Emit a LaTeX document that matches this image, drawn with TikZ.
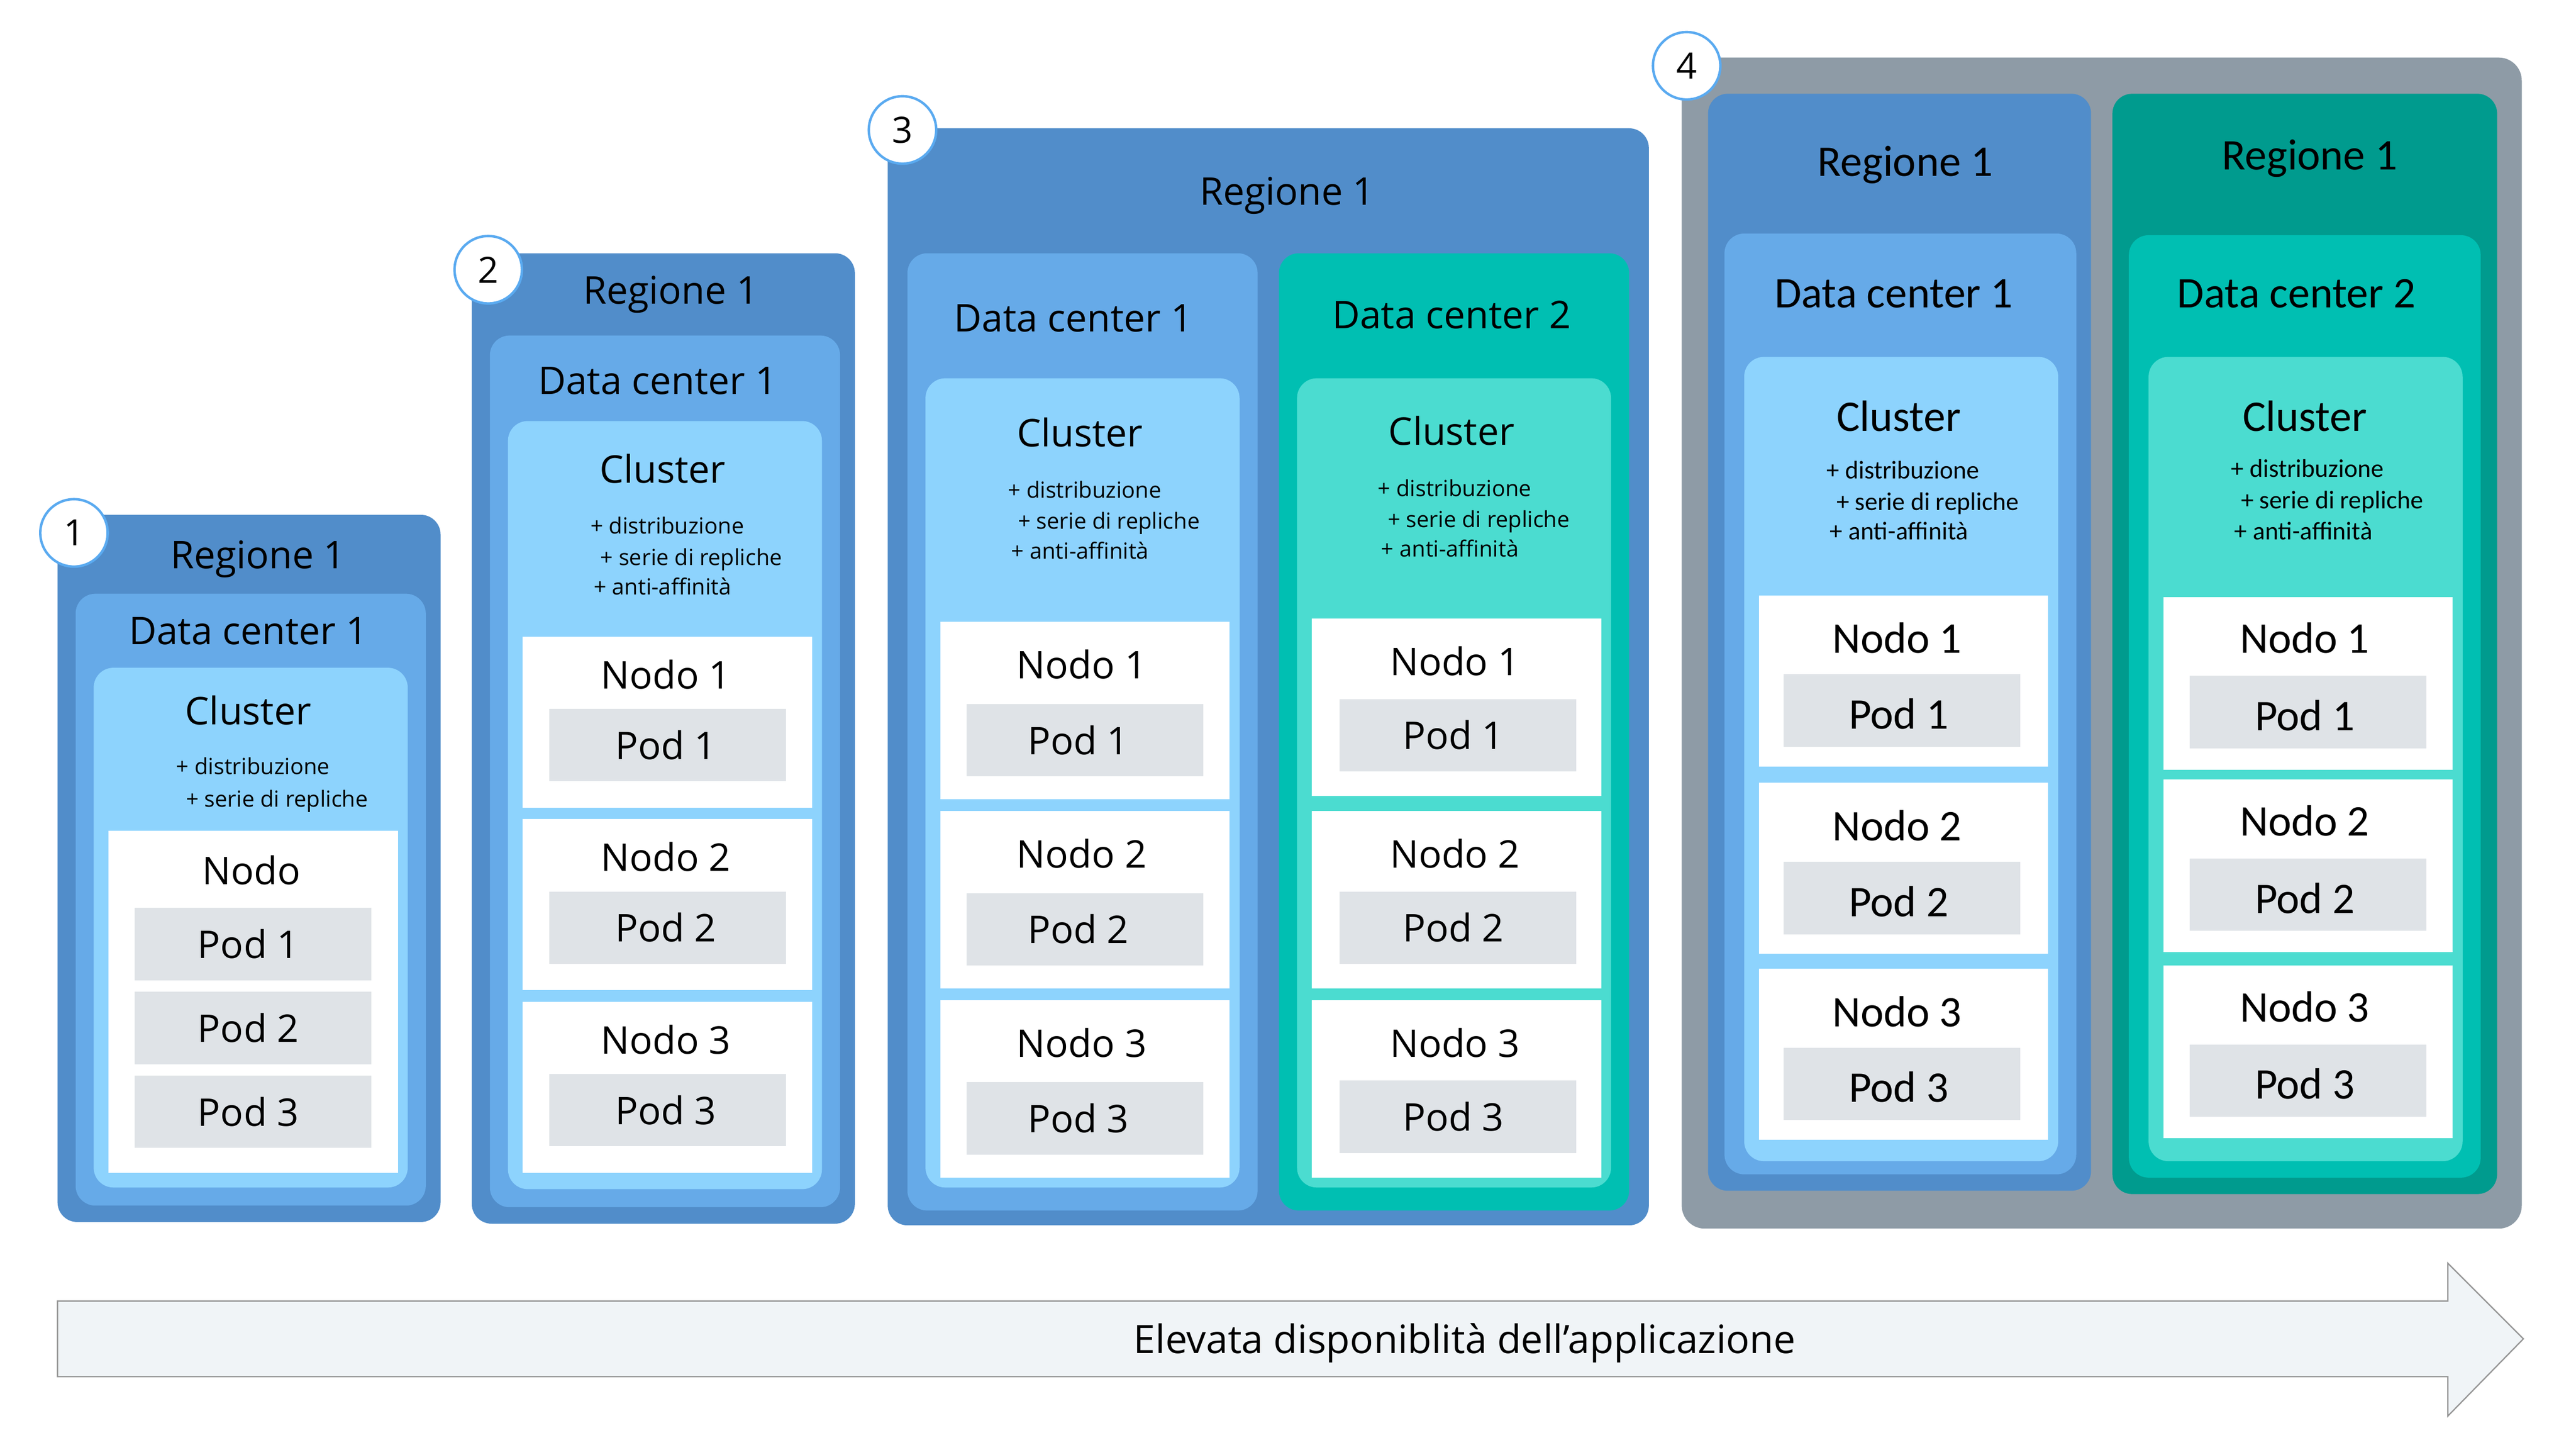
\documentclass[tikz,border=0pt]{standalone}
\usepackage{fontspec}
\setmainfont{Open Sans}
\newfontfamily\condfont{Carlito}
\definecolor{regionblue}{RGB}{81,141,202}
\definecolor{dcblue}{RGB}{102,170,232}
\definecolor{clusterblue}{RGB}{141,211,253}
\definecolor{regionteal}{RGB}{0,155,142}
\definecolor{dcteal}{RGB}{0,191,178}
\definecolor{clusterteal}{RGB}{75,220,208}
\definecolor{podgray}{RGB}{223,227,231}
\definecolor{outergray}{RGB}{142,155,166}
\definecolor{ringblue}{RGB}{90,170,240}
\definecolor{arrowfill}{RGB}{240,244,247}
\definecolor{arrowline}{RGB}{150,150,150}

\begin{document}
\begin{tikzpicture}[x=1pt,y=-1pt]
	\tikzstyle{box}=[anchor=north west,inner sep=0pt,outer sep=0pt]
	\tikzstyle{regionbox}=[box,rounded corners=12pt,fill=regionblue]
	\tikzstyle{dcbox}=[box,rounded corners=12pt,fill=dcblue]
	\tikzstyle{clusterbox}=[box,rounded corners=12pt,fill=clusterblue]
	\tikzstyle{nodebox}=[box,fill=white,minimum width=176pt]
	\tikzstyle{podbox}=[box,fill=podgray,minimum width=144pt,minimum height=44pt]
	\tikzstyle{lbl}=[anchor=mid,inner sep=0pt,yshift=-6pt,font=\fontsize{23.2}{27}\selectfont]
	\tikzstyle{note}=[anchor=mid west,inner sep=0pt,yshift=-2pt,font=\fontsize{13.5}{16}\selectfont]
	\tikzstyle{cond}=[anchor=mid,inner sep=0pt,yshift=-7.5pt,font=\condfont\fontsize{26.6}{30}\selectfont]
	\tikzstyle{condnote}=[anchor=mid west,inner sep=0pt,yshift=-1.5pt,font=\condfont\fontsize{15.5}{18}\selectfont]
	\tikzstyle{badge}=[circle,draw=ringblue,line width=1.5pt,fill=white,minimum size=41pt,inner sep=0pt,font=\fontsize{22}{26}\selectfont]

	\useasboundingbox (0,0) rectangle (1567,878.3);

	% 1: one region, one data center, one node
	\node[regionbox,minimum width=233pt,minimum height=430pt] (reg1) at (35,313) {};
	\node[dcbox,minimum width=213pt,minimum height=372pt] (dc1) at (46,361) {};
	\node[clusterbox,minimum width=191pt,minimum height=316pt] (cl1) at (57,406) {};
	\node[nodebox,minimum height=208pt] (nodo1) at (66,505) {};
	\foreach \t/\n in {552/1,603/2,654/3}{
		\node[podbox] (podA\n) at (82,\t) {};
		\node[lbl] (podAl\n) at (151,\t+22) {Pod \n};
	}
	\node[lbl] (reg1l) at (157,337) {Regione 1};
	\node[lbl] (dc1l) at (151,383) {Data center 1};
	\node[lbl] (cl1l) at (151,432) {Cluster};
	\node[note] (cl1a) at (107,466) {+ distribuzione};
	\node[note] (cl1b) at (113,486) {+ serie di repliche};
	\node[lbl] (nodo1l) at (153,529) {Nodo};

	% 2: three nodes
	\node[regionbox,minimum width=233pt,minimum height=590pt] (reg2) at (287,154) {};
	\node[dcbox,minimum width=213pt,minimum height=530pt] (dc2) at (298,204) {};
	\node[clusterbox,minimum width=191pt,minimum height=467pt] (cl2) at (309,256) {};
	\foreach \t/\n in {387/1,498/2,609/3}{
		\node[nodebox,minimum height=104pt] (nodoB\n) at (318,\t) {};
		\node[podbox] (podB\n) at (334,\t+44) {};
		\node[lbl] (nodoBl\n) at (405,\t+23) {Nodo \n};
		\node[lbl] (podBl\n) at (405,\t+66) {Pod \n};
	}
	\node[lbl] (reg2l) at (408,176) {Regione 1};
	\node[lbl] (dc2l) at (400,231) {Data center 1};
	\node[lbl] (cl2l) at (403,285) {Cluster};
	\node[note] (cl2a) at (359,320) {+ distribuzione};
	\node[note] (cl2b) at (365,339) {+ serie di repliche};
	\node[note] (cl2c) at (361,357) {+ anti-affinità};

	% 3: two data centers in one region
	\node[regionbox,minimum width=463pt,minimum height=667pt] (reg3) at (540,78) {};
	\node[dcbox,minimum width=213pt,minimum height=582pt] (dc3a) at (552,154) {};
	\node[clusterbox,minimum width=191pt,minimum height=492pt] (cl3a) at (563,230) {};
	\foreach \t/\n in {378/1,493/2,608/3}{
		\node[nodebox,minimum height=108pt] (nodoC\n) at (572,\t) {};
		\node[podbox] (podC\n) at (588,\t+50) {};
		\node[lbl] (nodoCl\n) at (658,\t+26) {Nodo \n};
		\node[lbl] (podCl\n) at (656,\t+72) {Pod \n};
	}
	\node[dcbox,fill=dcteal,minimum width=213pt,minimum height=582pt] (dc3b) at (778,154) {};
	\node[clusterbox,fill=clusterteal,minimum width=191pt,minimum height=492pt] (cl3b) at (789,230) {};
	\foreach \t/\n in {376/1,493/2,608/3}{
		\node[nodebox,minimum height=108pt] (nodoD\n) at (798,\t) {};
		\node[podbox] (podD\n) at (815,\t+49) {};
		\node[lbl] (nodoDl\n) at (885,\t+26) {Nodo \n};
		\node[lbl] (podDl\n) at (884,\t+71) {Pod \n};
	}
	\node[lbl] (reg3l) at (783,116) {Regione 1};
	\node[lbl] (dc3al) at (653,193) {Data center 1};
	\node[lbl] (dc3bl) at (883,191) {Data center 2};
	\node[lbl] (cl3al) at (657,263) {Cluster};
	\node[lbl] (cl3bl) at (883,262) {Cluster};
	\node[note] (cl3a1) at (613,298) {+ distribuzione};
	\node[note] (cl3a2) at (619,317) {+ serie di repliche};
	\node[note] (cl3a3) at (615,335) {+ anti-affinità};
	\node[note] (cl3b1) at (838,297) {+ distribuzione};
	\node[note] (cl3b2) at (844,316) {+ serie di repliche};
	\node[note] (cl3b3) at (840,334) {+ anti-affinità};

	% 4: two regions
	\node[box,rounded corners=14pt,fill=outergray,minimum width=511pt,minimum height=712pt] (outer4) at (1023,35) {};
	\node[regionbox,minimum width=233pt,minimum height=667pt] (reg4a) at (1039,57) {};
	\node[regionbox,fill=regionteal,minimum width=234pt,minimum height=669pt] (reg4b) at (1285,57) {};
	\node[dcbox,minimum width=214pt,minimum height=572pt] (dc4a) at (1049,142) {};
	\node[dcbox,fill=dcteal,minimum width=214pt,minimum height=573pt] (dc4b) at (1295,143) {};
	\node[clusterbox,minimum width=191pt,minimum height=489pt] (cl4a) at (1061,217) {};
	\node[clusterbox,fill=clusterteal,minimum width=191pt,minimum height=489pt] (cl4b) at (1307,217) {};
	\foreach \t/\n in {362/1,476/2,589/3}{
		\node[nodebox,minimum height=104pt] (nodoE\n) at (1070,\t) {};
		\node[podbox] (podE\n) at (1085,\t+48) {};
		\node[cond] (nodoEl\n) at (1154,\t+25) {Nodo \n};
		\node[cond] (podEl\n) at (1155,\t+71) {Pod \n};
	}
	\foreach \t/\n in {363/1,474/2,587/3}{
		\node[nodebox,minimum height=105pt] (nodoF\n) at (1316,\t) {};
		\node[podbox] (podF\n) at (1332,\t+48) {};
		\node[cond] (nodoFl\n) at (1402,\t+24) {Nodo \n};
		\node[cond] (podFl\n) at (1402,\t+71) {Pod \n};
	}
	\node[cond] (reg4al) at (1159,97) {Regione 1};
	\node[cond] (reg4bl) at (1405,93) {Regione 1};
	\node[cond] (dc4al) at (1152,177) {Data center 1};
	\node[cond] (dc4bl) at (1397,177) {Data center 2};
	\node[cond] (cl4al) at (1155,252) {Cluster};
	\node[cond] (cl4bl) at (1402,252) {Cluster};
	\node[condnote] (cl4a1) at (1111,287) {+ distribuzione};
	\node[condnote] (cl4a2) at (1117,306) {+ serie di repliche};
	\node[condnote] (cl4a3) at (1113,324) {+ anti-affinità};
	\node[condnote] (cl4b1) at (1357,286) {+ distribuzione};
	\node[condnote] (cl4b2) at (1363,305) {+ serie di repliche};
	\node[condnote] (cl4b3) at (1359,324) {+ anti-affinità};

	% step numbers
	\node[badge] (num1) at (45,324) {1};
	\node[badge] (num2) at (297,164) {2};
	\node[badge] (num3) at (549,79) {3};
	\node[badge] (num4) at (1026,40) {4};

	% arrow
	\draw[fill=arrowfill,draw=arrowline,line width=0.8pt] (35,791) -- (1489,791) -- (1489,768) -- (1535,814) -- (1489,861) -- (1489,837) -- (35,837) -- cycle;
	\node[lbl,font=\fontsize{23.8}{28}\selectfont,yshift=1pt] (avail) at (891,815) {Elevata disponiblità dell’applicazione};
\end{tikzpicture}
\end{document}
